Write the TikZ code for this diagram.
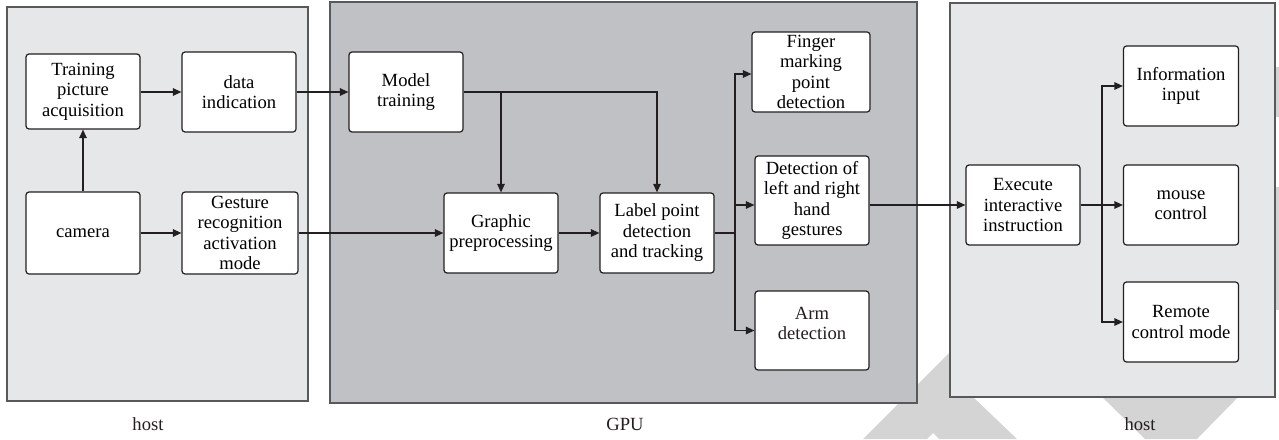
\documentclass[tikz,border=0pt]{standalone}
\usepackage{fontspec}
\setmainfont{Liberation Serif}
\usetikzlibrary{arrows.meta}
\definecolor{hostfill}{HTML}{E6E7E8}
\definecolor{gpufill}{HTML}{C0C1C4}
\definecolor{panelline}{HTML}{58595B}
\definecolor{ink}{HTML}{231F20}
\definecolor{wmark}{HTML}{D4D4D4}
\tikzset{
  panel/.style={draw=panelline, line width=1.2pt},
  box/.style={draw=ink, fill=white, rounded corners=3pt, line width=1.2pt,
    align=center, inner sep=0pt, font=\fontsize{18.6}{20.5}\selectfont},
  txt/.style={align=center, inner sep=0pt, font=\fontsize{18.6}{20.5}\selectfont, text=ink},
  arr/.style={draw=ink, line width=1.2pt, -{Triangle[length=8.5pt,width=7.5pt]}},
  ln/.style={draw=ink, line width=1.2pt},
  captxt/.style={inner sep=0pt, font=\fontsize{18.6}{20.5}\selectfont, text=ink}
}
\begin{document}
\begin{tikzpicture}[x=1pt,y=-1pt]
\useasboundingbox (0,0) rectangle (1279,439);
% watermark
\fill[wmark] (863,439) -- (952,350) -- (973,397) -- (1017,439) -- (939,439) -- (933,433) -- (927,439) -- cycle;
\fill[wmark] (1095,390) -- (1245,390) -- (1197,439) -- (1145,439) -- cycle;
\fill[wmark] (1274,67) rectangle (1279,117);
\fill[wmark] (1274,187) rectangle (1279,310);
% panels
\draw[panel, fill=hostfill] (7,7) rectangle (308,401);
\draw[panel, fill=gpufill] (330,2) rectangle (917,403);
\draw[panel, fill=hostfill] (950,3) rectangle (1275,397);
\node[captxt] (hostL) at (148,424) {host};
\node[captxt] (gpuL) at (625,424) {GPU};
\node[captxt] (hostR) at (1140,424) {host};
% boxes
\node[box, minimum width=114pt, minimum height=75pt] (train) at (83,91.5) {Training\\picture\\acquisition};
\node[box, minimum width=114pt, minimum height=80pt] (data) at (239,92) {data\\indication};
\node[box, minimum width=114pt, minimum height=82pt] (camera) at (83,233) {camera};
\node[box, minimum width=116pt, minimum height=82pt] (gest) at (240,233) {Gesture\\recognition\\activation\\mode};
\node[box, minimum width=114pt, minimum height=80pt] (model) at (406,92) {Model\\training};
\node[box, minimum width=114pt, minimum height=80pt] (graph) at (501,233) {Graphic\\preprocessing};
\node[box, minimum width=114pt, minimum height=80pt] (label) at (657,233) {Label point\\detection\\and tracking};
\node[box, minimum width=118pt, minimum height=80pt] (finger) at (811,72) {Finger\\marking\\point\\detection};
\node[box, minimum width=114pt, minimum height=89pt] (detect) at (812,200.5) {Detection of\\left and right\\hand\\gestures};
\node[box, minimum width=114pt, minimum height=79pt] (arm) at (812,330.5) {};
\node[txt] (armtxt) at ([yshift=7pt]arm.center) {Arm\\detection};
\node[box, minimum width=114pt, minimum height=80pt] (exec) at (1023,205) {Execute\\interactive\\instruction};
\node[box, minimum width=115pt, minimum height=80pt] (info) at (1181,86) {Information\\input};
\node[box, minimum width=115pt, minimum height=80pt] (mouse) at (1181,205) {mouse\\control};
\node[box, minimum width=115pt, minimum height=80pt] (remote) at (1181,322) {Remote\\control mode};
% connectors
\draw[arr] (camera) -- (train);
\draw[arr] (train.east |- data.west) -- (data.west);
\draw[arr] (camera) -- (gest);
\draw[arr] (data) -- (model);
\draw[arr] (gest) -- (graph);
\draw[arr] (model.east) -| (label.north);
\draw[arr] (model.east -| graph.north) -- (graph.north);
\draw[arr] (graph) -- (label);
\coordinate (s1) at (735,233);
\draw[ln] (label.east) -- (s1);
\draw[arr] (s1) |- ([yshift=-2pt]finger.west);
\draw[arr] (s1) |- (detect.west |- exec.west);
\draw[arr] (s1) |- (arm.west);
\draw[arr] (detect.east |- exec.west) -- (exec.west);
\coordinate (s2) at (1102,205);
\draw[arr] (exec) -- (mouse);
\draw[arr] (s2) |- (info.west);
\draw[arr] (s2) |- (remote.west);
\end{tikzpicture}
\end{document}
